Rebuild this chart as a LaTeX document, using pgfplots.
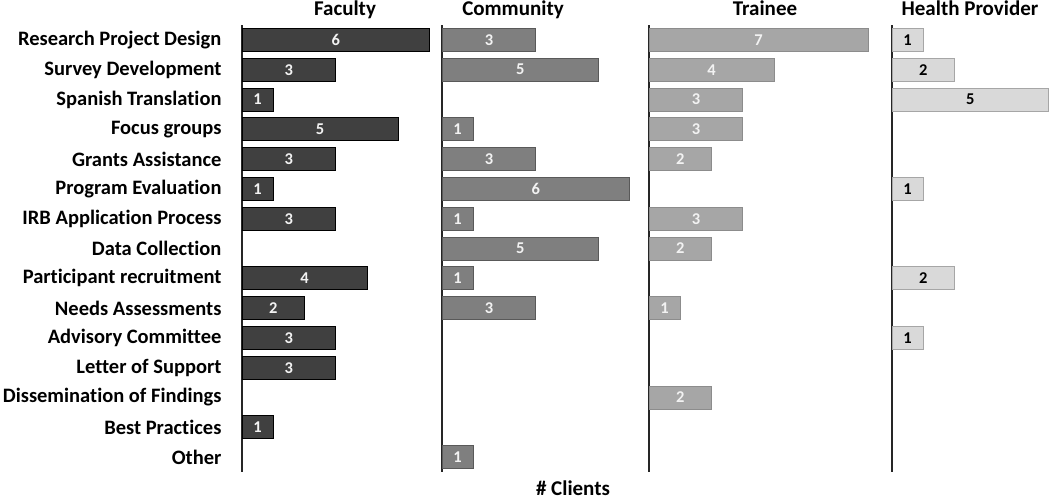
\documentclass[border=0pt]{standalone}
\usepackage{pgfplots}
\pgfplotsset{compat=1.18}
\usepackage{pgfplotstable}
\usepackage{fontspec}
\setmainfont{Carlito}[Ligatures=NoCommon]

\definecolor{cFac}{HTML}{404040}
\definecolor{cCom}{HTML}{7F7F7F}
\definecolor{cTra}{HTML}{A6A6A6}
\definecolor{cHea}{HTML}{D9D9D9}

% row index, number of clients (empty cells left out)
\pgfplotstableread{
i v
0 6
1 3
2 1
3 5
4 3
5 1
6 3
8 4
9 2
10 3
11 3
13 1
}\faculty
\pgfplotstableread{
i v
0 3
1 5
3 1
4 3
5 6
6 1
7 5
8 1
9 3
14 1
}\community
\pgfplotstableread{
i v
0 7
1 4
2 3
3 3
4 2
6 3
7 2
9 1
12 2
}\trainee
\pgfplotstableread{
i v
0 1
1 2
2 5
5 1
8 2
10 1
}\health

\pgfplotsset{
  panel/.style={
    scale only axis, height=447pt,
    ymin=-0.5, ymax=14.5, y dir=reverse, xmin=0,
    hide x axis, axis y line*=left,
    y axis line style={-, draw=black!85, line width=1.1pt},
    ytick=\empty, major tick length=0pt, clip=false,
    anchor=south west,
  },
  bars/.style 2 args={xbar, bar width=23pt, fill=#1, draw=#2, line width=0.8pt},
  vals/.style={draw=none, mark=none, point meta=explicit,
    nodes near coords={\pgfmathprintnumber[fixed,precision=0]{\pgfplotspointmeta}},
    every node near coord/.append style={anchor=center, text=#1,
      font=\bfseries\fontsize{16.5}{16.5}\selectfont},
    /pgf/number format/assume math mode=true},
}

\begin{document}
\begin{tikzpicture}
\path[use as bounding box] (0,0) rectangle (1050pt,499pt);

\begin{axis}[panel, at={(242pt,27pt)}, width=197pt, xmax=6.3,
  ytick={0,...,14},
  yticklabels={Research Project Design, Survey Development, Spanish Translation,
    Focus groups, Grants Assistance, Program Evaluation, IRB Application Process,
    Data Collection, Participant recruitment, Needs Assessments, Advisory Committee,
    Letter of Support, Dissemination of Findings, Best Practices, Other},
  yticklabel style={anchor=east, xshift=-17pt, font=\bfseries\fontsize{20.5}{21}\selectfont},
  ]
  \addplot[bars={cFac}{black}] table[x=v, y=i] {\faculty};
  \addplot[vals=white!95!black] table[x expr=\thisrow{v}/2, y=i, meta=v] {\faculty};
\end{axis}

\begin{axis}[panel, at={(442pt,27pt)}, width=205pt, xmax=6.55]
  \addplot[bars={cCom}{black!65}] table[x=v, y=i] {\community};
  \addplot[vals=white!95!black] table[x expr=\thisrow{v}/2, y=i, meta=v] {\community};
\end{axis}

\begin{axis}[panel, at={(649pt,27pt)}, width=241pt, xmax=7.7]
  \addplot[bars={cTra}{black!45}] table[x=v, y=i] {\trainee};
  \addplot[vals=white!95!black] table[x expr=\thisrow{v}/2, y=i, meta=v] {\trainee};
\end{axis}

\begin{axis}[panel, at={(892pt,27pt)}, width=156.5pt, xmax=5.0]
  \addplot[bars={cHea}{black!35}] table[x=v, y=i] {\health};
  \addplot[vals=black] table[x expr=\thisrow{v}/2, y=i, meta=v] {\health};
\end{axis}

\begin{scope}[font=\bfseries\fontsize{21}{21}\selectfont, anchor=base]
  \node at (345pt,483pt) {Faculty};
  \node at (513pt,483pt) {Community};
  \node at (765pt,483pt) {Trainee};
  \node at (970pt,483pt) {Health Provider};
  \node at (573pt,4pt) {\# Clients};
\end{scope}
\end{tikzpicture}
\end{document}
